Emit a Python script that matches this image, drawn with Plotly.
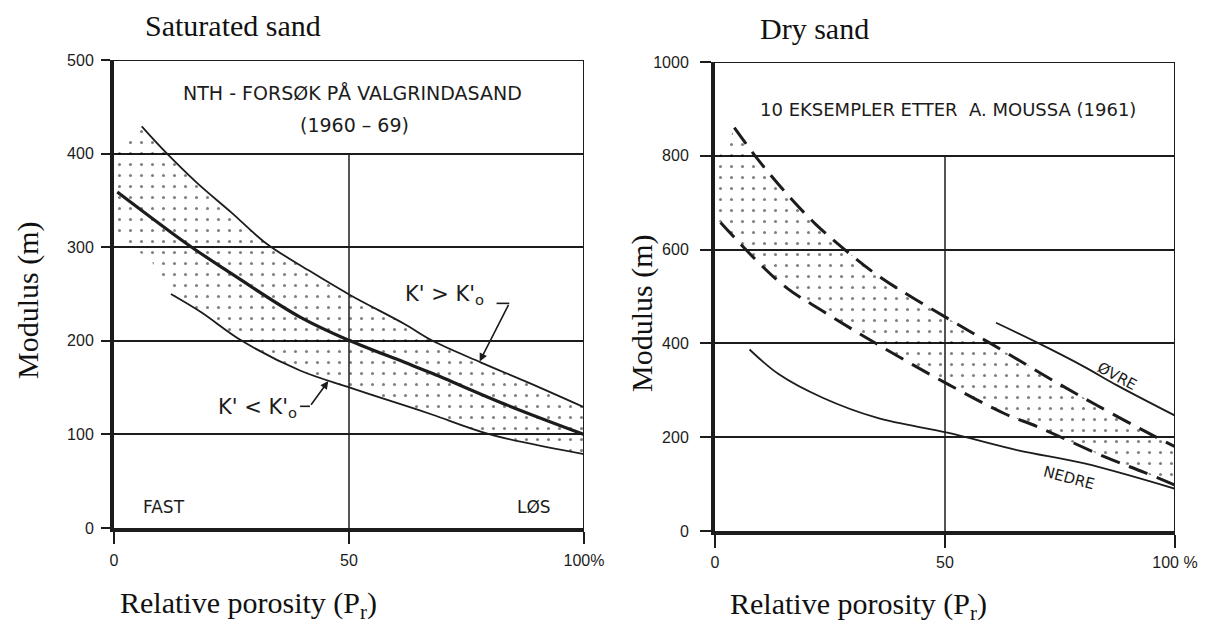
import plotly.graph_objects as go

# ---------------- data: saturated sand (left) ----------------
sat_upper_x = [5.9, 10.3, 17.6, 25, 32.4, 41.5, 50.2, 61.8, 67.8, 78, 88.3, 100]
sat_upper_y = [429, 405, 369, 337, 304, 275, 249, 218, 200, 177, 155, 129]
sat_mid_x = [0.7, 15.4, 23.7, 39.7, 50.2, 61.8, 67.8, 83.8, 100]
sat_mid_y = [359, 304, 276, 225, 200, 177, 165, 131, 100]
sat_lower_x = [12.1, 18.4, 27.2, 39.7, 50.2, 61.8, 67.8, 80, 100]
sat_lower_y = [250, 231, 200, 168, 150, 131, 121, 100, 79]
sat_band_edge_x = [8, 0, 0, 4]
sat_band_edge_y = [285, 315, 405, 418]

# ---------------- data: dry sand (right) ----------------
dry_upper_x = [4.2, 9.1, 15.5, 21.8, 28.2, 36.1, 50.8, 59.9, 74, 83, 95.9, 100]
dry_upper_y = [860, 795, 720, 655, 600, 540, 452, 400, 318, 268, 200, 180]
dry_lower_x = [1.2, 9.1, 15.5, 23.4, 35.3, 50.8, 63, 70.2, 84.5, 93.3, 100]
dry_lower_y = [658, 576, 519, 469, 398, 312, 250, 222, 159, 125, 98]
dry_ovre_x = [61.1, 70.2, 80.3, 87.3, 100]
dry_ovre_y = [444, 401, 350, 311, 246]
dry_nedre_x = [7.5, 13.9, 23.4, 35.3, 50.8, 65.9, 80.3, 100]
dry_nedre_y = [387, 334, 284, 241, 209, 172, 144, 90]
dry_band_edge_x = [0, 0, 3]
dry_band_edge_y = [665, 785, 830]

x_tickvals = [0, 50, 100]
sat_xticktext = ["0", "50", "100%"]
dry_xticktext = ["0", "50", "100 %"]
sat_yticks = [0, 100, 200, 300, 400, 500]
dry_yticks = [0, 200, 400, 600, 800, 1000]

INK = "#1c1c1c"
HAND = "DejaVu Sans"
TICKFONT = dict(family="Liberation Sans Narrow, Liberation Sans", size=16, color=INK)
SERIF = "Liberation Serif, Times New Roman, serif"

stipple = dict(shape=".", size=11, solidity=0.06, fgcolor="#000000")

fig = go.Figure()

def band(xu, yu, xl, yl, ex, ey):
    px = list(xu) + list(reversed(xl)) + list(ex)
    py = list(yu) + list(reversed(yl)) + list(ey)
    return px, py

# left stipple band
bx, by = band(sat_upper_x, sat_upper_y, sat_lower_x, sat_lower_y, sat_band_edge_x, sat_band_edge_y)
fig.add_trace(go.Scatter(x=bx, y=by, fill="toself", mode="lines", line=dict(width=0),
                         fillcolor="rgba(0,0,0,0)", fillpattern=stipple,
                         xaxis="x", yaxis="y", hoverinfo="skip", showlegend=False))
fig.add_trace(go.Scatter(x=sat_upper_x, y=sat_upper_y, mode="lines", line=dict(color=INK, width=1.8, shape="spline"),
                         xaxis="x", yaxis="y", showlegend=False))
fig.add_trace(go.Scatter(x=sat_mid_x, y=sat_mid_y, mode="lines", line=dict(color=INK, width=3.2, shape="spline"),
                         xaxis="x", yaxis="y", showlegend=False))
fig.add_trace(go.Scatter(x=sat_lower_x, y=sat_lower_y, mode="lines", line=dict(color=INK, width=1.8, shape="spline"),
                         xaxis="x", yaxis="y", showlegend=False))

# right stipple band
bx, by = band(dry_upper_x, dry_upper_y, dry_lower_x, dry_lower_y, dry_band_edge_x, dry_band_edge_y)
fig.add_trace(go.Scatter(x=bx, y=by, fill="toself", mode="lines", line=dict(width=0),
                         fillcolor="rgba(0,0,0,0)", fillpattern=stipple,
                         xaxis="x2", yaxis="y2", hoverinfo="skip", showlegend=False))
fig.add_trace(go.Scatter(x=dry_upper_x, y=dry_upper_y, mode="lines",
                         line=dict(color=INK, width=3, dash="20px,10px", shape="spline"),
                         xaxis="x2", yaxis="y2", showlegend=False))
fig.add_trace(go.Scatter(x=dry_lower_x, y=dry_lower_y, mode="lines",
                         line=dict(color=INK, width=3, dash="20px,10px", shape="spline"),
                         xaxis="x2", yaxis="y2", showlegend=False))
fig.add_trace(go.Scatter(x=dry_ovre_x, y=dry_ovre_y, mode="lines", line=dict(color=INK, width=1.8, shape="spline"),
                         xaxis="x2", yaxis="y2", showlegend=False))
fig.add_trace(go.Scatter(x=dry_nedre_x, y=dry_nedre_y, mode="lines", line=dict(color=INK, width=1.8, shape="spline"),
                         xaxis="x2", yaxis="y2", showlegend=False))

def xax(domain, anchor, ticktext, ticklen, standoff):
    return dict(domain=domain, anchor=anchor, range=[0, 100], showline=True, linewidth=4, linecolor=INK,
                ticks="outside", ticklen=ticklen, tickwidth=2, tickcolor=INK,
                tickvals=x_tickvals, ticktext=ticktext, showgrid=False, zeroline=False,
                tickfont=TICKFONT, ticklabelstandoff=standoff, fixedrange=True, automargin=False)

def yax(domain, anchor, rng, tickvals, ticklen, standoff):
    return dict(domain=domain, anchor=anchor, range=rng, showline=True, linewidth=4, linecolor=INK,
                ticks="outside", ticklen=ticklen, tickwidth=2, tickcolor=INK,
                tickvals=tickvals, showgrid=True, gridcolor=INK, gridwidth=2, zeroline=False,
                tickfont=TICKFONT, ticklabelstandoff=standoff, fixedrange=True, automargin=False)

shapes = []
def frame(xref, yref, ytop, vtop):
    shapes.append(dict(type="line", xref=xref, yref=yref, x0=0, x1=100, y0=ytop, y1=ytop,
                       line=dict(color=INK, width=2)))
    shapes.append(dict(type="line", xref=xref, yref=yref, x0=100, x1=100, y0=0, y1=ytop,
                       line=dict(color=INK, width=2)))
    shapes.append(dict(type="line", xref=xref, yref=yref, x0=50, x1=50, y0=0, y1=vtop,
                       line=dict(color=INK, width=1.5)))

frame("x", "y", 500, 400)
frame("x2", "y2", 1000, 800)

# leader stubs
shapes.append(dict(type="line", xref="x", yref="y", x0=81.4, x1=84.1, y0=240, y1=240,
                   line=dict(color=INK, width=1.6)))
shapes.append(dict(type="line", xref="x", yref="y", x0=39.6, x1=41.7, y0=130, y1=130,
                   line=dict(color=INK, width=1.6)))

ann = []
def txt(text, x, y, xref, yref, size, family=HAND, angle=0, xanchor="center", yanchor="middle"):
    ann.append(dict(text=text, x=x, y=y, xref=xref, yref=yref, showarrow=False, textangle=angle,
                    xanchor=xanchor, yanchor=yanchor, font=dict(family=family, size=size, color=INK)))

txt("NTH - FORSØK PÅ VALGRINDASAND", 50.7, 465, "x", "y", 19)
txt("(1960 – 69)", 51.2, 431, "x", "y", 19)
txt("K' > K'<sub>o</sub>", 70.3, 249, "x", "y", 21)
txt("K' < K'<sub>o</sub>", 30.5, 128, "x", "y", 21)
txt("FAST", 10.7, 22, "x", "y", 17)
txt("LØS", 89.3, 22, "x", "y", 17)
txt("10 EKSEMPLER ETTER  A. MOUSSA (1961)", 50.6, 898, "x2", "y2", 18)
txt("ØVRE", 87.3, 330, "x2", "y2", 15, angle=28)
txt("NEDRE", 77, 114, "x2", "y2", 15, angle=15)

# leader arrows
ann.append(dict(x=77.8, y=178, ax=84.1, ay=240, xref="x", yref="y", axref="x", ayref="y", text="",
                showarrow=True, arrowhead=2, arrowsize=1, arrowwidth=1.6, arrowcolor=INK, standoff=0))
ann.append(dict(x=45.6, y=157, ax=41.7, ay=130, xref="x", yref="y", axref="x", ayref="y", text="",
                showarrow=True, arrowhead=2, arrowsize=1, arrowwidth=1.6, arrowcolor=INK, standoff=0))

# outer titles (paper coords, from pixel positions)
W, H = 1215, 627
def ptxt(text, px, py, size, angle=0, xanchor="center"):
    ann.append(dict(text=text, x=px / W, y=1 - py / H, xref="paper", yref="paper", showarrow=False,
                    textangle=angle, xanchor=xanchor, yanchor="middle",
                    font=dict(family=SERIF, size=size, color="#111111")))

ptxt("Saturated sand", 143, 26, 30, xanchor="left")
ptxt("Dry sand", 758, 28, 30, xanchor="left")
ptxt("Modulus (m)", 28, 300, 30, angle=-90)
ptxt("Modulus (m)", 642, 313, 30, angle=-90)
ptxt("Relative porosity (P<sub>r</sub>)", 118, 605, 30, xanchor="left")
ptxt("Relative porosity (P<sub>r</sub>)", 728, 606, 30, xanchor="left")

fig.update_layout(
    width=W, height=H, margin=dict(l=0, r=0, t=0, b=0, autoexpand=False),
    paper_bgcolor="white", plot_bgcolor="rgba(0,0,0,0)", showlegend=False,
    xaxis=xax([114 / W, 584 / W], "y", sat_xticktext, 12, 3),
    yaxis=yax([1 - 528 / H, 1 - 60 / H], "x", [0, 500], sat_yticks, 9, 4),
    xaxis2=xax([715 / W, 1175 / W], "y2", dry_xticktext, 13, 1),
    yaxis2=yax([1 - 531 / H, 1 - 62 / H], "x2", [0, 1000], dry_yticks, 11, 8),
    shapes=shapes, annotations=ann,
)

fig.write_html("out.html", config={"displayModeBar": False},
               post_script="document.body.style.margin='0';document.body.style.overflow='hidden';")
